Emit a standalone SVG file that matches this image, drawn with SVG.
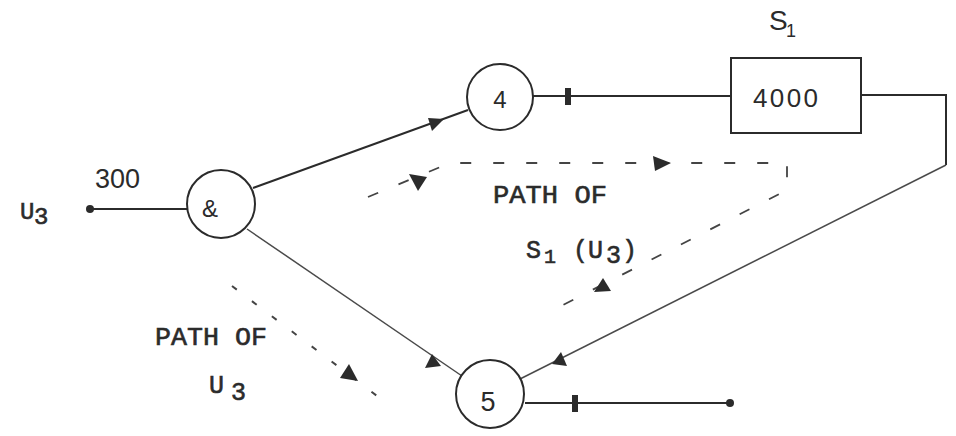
<svg xmlns="http://www.w3.org/2000/svg" width="956" height="436" viewBox="0 0 956 436">
<style>
.ln{fill:none;stroke:#2b2b2b;stroke-width:2}
.thin{fill:none;stroke:#4a4a4a;stroke-width:1.5}
.dash{fill:none;stroke:#444;stroke-width:1.8;stroke-dasharray:11 22}
.dash2{fill:none;stroke:#444;stroke-width:2;stroke-dasharray:6 19}
.node{fill:#fff;stroke:#2b2b2b;stroke-width:2}
.hand{font-family:"Liberation Sans",Arial,sans-serif;fill:#2b2b2b}
.type{font-family:"Liberation Mono","Courier New",monospace;fill:#2b2b2b;stroke:#2b2b2b;stroke-width:0.6}
.ah{fill:#2b2b2b}
</style>
<rect width="956" height="436" fill="#fff"/>
<g id="connectors">
  <line class="ln" x1="90" y1="209" x2="188" y2="209"/>
  <circle cx="90" cy="209" r="4" class="ah"/>
  <line class="ln" x1="253" y1="188" x2="468" y2="110"/>
  <polygon class="ah" points="444,119 428,118 432,131"/>
  <line class="thin" x1="247" y1="229" x2="462" y2="376"/>
  <polygon class="ah" points="441,366 425,368 432,354"/>
  <line class="ln" x1="533" y1="96" x2="731" y2="96"/>
  <rect x="565" y="88" width="6" height="17" class="ah"/>
  <polyline class="ln" points="861,95 946,95 946,165"/>
  <line class="thin" x1="946" y1="165" x2="520" y2="379"/>
  <polygon class="ah" points="552,364 567,366 561,352"/>
  <line class="ln" x1="525" y1="403" x2="730" y2="403"/>
  <circle cx="730" cy="403" r="4" class="ah"/>
  <rect x="572" y="395" width="6" height="17" class="ah"/>
  <polyline class="dash" points="368,197 450,163 787,163 787,190 563,305"/>
  <polygon class="ah" points="409,174 427,177 418,191"/>
  <polygon class="ah" points="671,163 653,156 655,171"/>
  <polygon class="ah" points="594,292 611,291 603,278"/>
  <line class="dash2" x1="232" y1="286" x2="385" y2="402"/>
  <polygon class="ah" points="358,381 340,378 349,364"/>
</g>
<g id="node-and">
  <circle class="node" cx="221" cy="204" r="34"/>
  <text class="hand" x="202" y="217" font-size="24">&amp;</text>
</g>
<g id="node-4">
  <circle class="node" cx="500" cy="97" r="33"/>
  <text class="hand" x="500" y="108" font-size="24" text-anchor="middle">4</text>
</g>
<g id="node-5">
  <circle class="node" cx="490" cy="394" r="34"/>
  <text class="hand" x="488" y="411" font-size="27" text-anchor="middle">5</text>
</g>
<g id="node-4000">
  <rect class="node" x="731" y="58" width="130" height="75"/>
  <text class="hand" x="753" y="107" font-size="26" textLength="65">4000</text>
</g>
<g id="labels">
  <text class="hand" x="95" y="188" font-size="27">300</text>
  <text class="type" font-size="24"><tspan x="20" y="219">U</tspan><tspan x="34" y="224">3</tspan></text>
  <text class="hand" font-size="28"><tspan x="769" y="30">S</tspan><tspan x="786" y="37" font-size="18">1</tspan></text>
  <text class="type" x="493" y="203" font-size="25" textLength="114" lengthAdjust="spacingAndGlyphs">PATH OF</text>
  <text class="type" font-size="25"><tspan x="526" y="258">S</tspan><tspan x="544" y="263" font-size="20">1</tspan><tspan x="573" y="258">(U</tspan><tspan x="606" y="263">3</tspan><tspan x="622" y="258">)</tspan></text>
  <text class="type" x="155" y="345" font-size="25" textLength="112" lengthAdjust="spacingAndGlyphs">PATH OF</text>
  <text class="type" font-size="25"><tspan x="209" y="393">U</tspan><tspan x="231" y="400">3</tspan></text>
</g>
</svg>
